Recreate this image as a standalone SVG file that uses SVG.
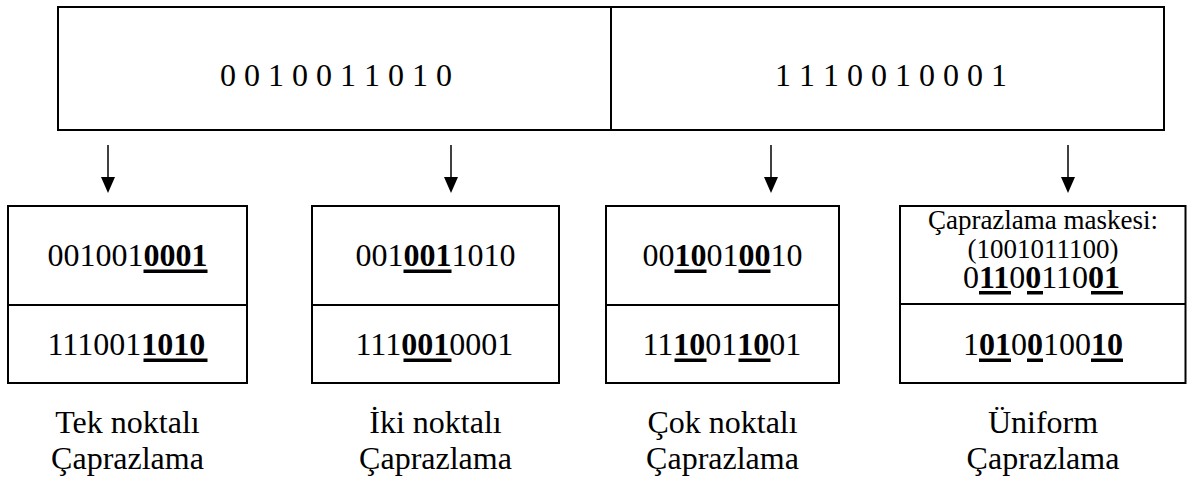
<svg xmlns="http://www.w3.org/2000/svg" width="1187" height="479" viewBox="0 0 1187 479">
  <style>
    .box { fill: none; stroke: #000; stroke-width: 2; }
    .sep { stroke: #000; stroke-width: 2; }
    .t { font-family: "Liberation Serif", "Times New Roman", serif; font-size: 32px; fill: #000; }
    .s { font-family: "Liberation Serif", "Times New Roman", serif; font-size: 27px; fill: #000; }
    .b { font-weight: bold; }
    .ul { fill: #000; }
    .arrow { stroke: #000; stroke-width: 1.5; }
    .head { fill: #000; }
  </style>
  <defs>
    <!-- downward arrow, origin at the top of the shaft -->
    <g id="down-arrow">
      <line class="arrow" x1="0" y1="0" x2="0" y2="34"/>
      <polygon class="head" points="-7,32 7,32 0,48"/>
    </g>
  </defs>
  <rect width="1187" height="479" fill="#fff"/>

  <!-- parent chromosomes -->
  <g id="parents">
    <rect class="box" x="58" y="7" width="1106" height="123"/>
    <line class="sep" x1="611" y1="7" x2="611" y2="130"/>
    <text class="t" x="220" y="86" xml:space="preserve">0 0 1 0 0 1 1 0 1 0</text>
    <text class="t" x="775" y="86" xml:space="preserve">1 1 1 0 0 1 0 0 0 1</text>
  </g>

  <!-- connectors -->
  <g id="connectors">
    <use href="#down-arrow" x="108" y="145"/>
    <use href="#down-arrow" x="451" y="145"/>
    <use href="#down-arrow" x="771" y="145"/>
    <use href="#down-arrow" x="1068" y="145"/>
  </g>

  <!-- single-point crossover -->
  <g id="tek-noktali">
    <rect class="box" x="8" y="206" width="239" height="177"/>
    <line class="sep" x1="8" y1="305" x2="247" y2="305"/>
    <text class="t" x="47.5" y="266">001001<tspan class="b">0001</tspan></text>
    <rect class="ul" x="143.5" y="269.5" width="64" height="3.5"/>
    <text class="t" x="47.5" y="355">111001<tspan class="b">1010</tspan></text>
    <rect class="ul" x="143.5" y="358.5" width="64" height="3.5"/>
    <text class="t" x="127.5" y="433" text-anchor="middle">Tek noktalı</text>
    <text class="t" x="127.5" y="469" text-anchor="middle">Çaprazlama</text>
  </g>

  <!-- two-point crossover -->
  <g id="iki-noktali">
    <rect class="box" x="312" y="206" width="247" height="177"/>
    <line class="sep" x1="312" y1="305" x2="559" y2="305"/>
    <text class="t" x="355.5" y="266">001<tspan class="b">001</tspan>1010</text>
    <rect class="ul" x="403.5" y="269.5" width="48" height="3.5"/>
    <text class="t" x="355.5" y="355">111<tspan class="b">001</tspan>0001</text>
    <rect class="ul" x="403.5" y="358.5" width="48" height="3.5"/>
    <text class="t" x="435.5" y="433" text-anchor="middle">İki noktalı</text>
    <text class="t" x="435.5" y="469" text-anchor="middle">Çaprazlama</text>
  </g>

  <!-- multi-point crossover -->
  <g id="cok-noktali">
    <rect class="box" x="606" y="206" width="233" height="177"/>
    <line class="sep" x1="606" y1="305" x2="839" y2="305"/>
    <text class="t" x="642.5" y="266">00<tspan class="b">10</tspan>01<tspan class="b">00</tspan>10</text>
    <rect class="ul" x="674.5" y="269.5" width="32" height="3.5"/>
    <rect class="ul" x="738.5" y="269.5" width="32" height="3.5"/>
    <text class="t" x="642.5" y="355">11<tspan class="b">10</tspan>01<tspan class="b">10</tspan>01</text>
    <rect class="ul" x="674.5" y="358.5" width="32" height="3.5"/>
    <rect class="ul" x="738.5" y="358.5" width="32" height="3.5"/>
    <text class="t" x="722.5" y="433" text-anchor="middle">Çok noktalı</text>
    <text class="t" x="722.5" y="469" text-anchor="middle">Çaprazlama</text>
  </g>

  <!-- uniform crossover -->
  <g id="uniform">
    <rect class="box" x="900" y="206" width="285.5" height="177"/>
    <line class="sep" x1="900" y1="304" x2="1185.5" y2="304"/>
    <text class="s" x="1043" y="229" text-anchor="middle">Çaprazlama maskesi:</text>
    <text class="s" x="1043" y="258" text-anchor="middle">(1001011100)</text>
    <text class="t" x="963" y="288">0<tspan class="b">11</tspan>0<tspan class="b">0</tspan>110<tspan class="b">01</tspan></text>
    <rect class="ul" x="979" y="291" width="32" height="3.5"/>
    <rect class="ul" x="1027" y="291" width="16" height="3.5"/>
    <rect class="ul" x="1091" y="291" width="32" height="3.5"/>
    <text class="t" x="963" y="355">1<tspan class="b">01</tspan>0<tspan class="b">0</tspan>100<tspan class="b">10</tspan></text>
    <rect class="ul" x="979" y="358.5" width="32" height="3.5"/>
    <rect class="ul" x="1027" y="358.5" width="16" height="3.5"/>
    <rect class="ul" x="1091" y="358.5" width="32" height="3.5"/>
    <text class="t" x="1043" y="433" text-anchor="middle">Üniform</text>
    <text class="t" x="1043" y="469" text-anchor="middle">Çaprazlama</text>
  </g>
</svg>
